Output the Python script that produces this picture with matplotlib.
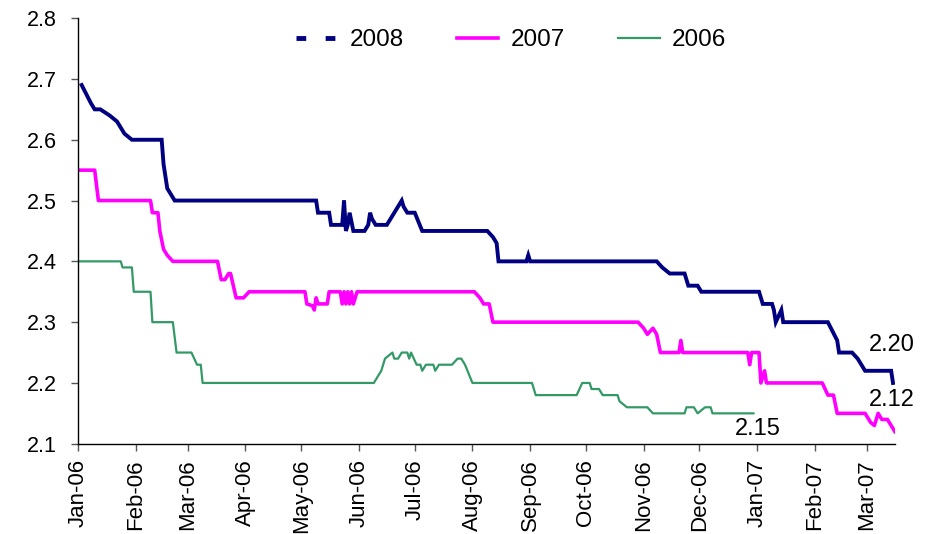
import numpy as np
import pandas as pd
import matplotlib
matplotlib.use("Agg")
import matplotlib.pyplot as plt
import matplotlib.dates as mdates
from matplotlib.lines import Line2D
from matplotlib.ticker import FormatStrFormatter

plt.rcParams['font.family'] = ['Liberation Sans', 'DejaVu Sans']

# contract price paths, plotted on a common Jan-06 .. Mar-07 calendar
dates_2008 = ['2006-01-03', '2006-01-08', '2006-01-10', '2006-01-13', '2006-01-18',
              '2006-01-22', '2006-01-26', '2006-01-30', '2006-02-15', '2006-02-16',
              '2006-02-17', '2006-02-18', '2006-02-20', '2006-02-22', '2006-05-09',
              '2006-05-10', '2006-05-16', '2006-05-17', '2006-05-23', '2006-05-24',
              '2006-05-25', '2006-05-26', '2006-05-27', '2006-05-29', '2006-06-04',
              '2006-06-06', '2006-06-07', '2006-06-08', '2006-06-10', '2006-06-16',
              '2006-06-18', '2006-06-20', '2006-06-24', '2006-06-25', '2006-06-27',
              '2006-07-01', '2006-07-05', '2006-08-09', '2006-08-12', '2006-08-14',
              '2006-08-15', '2006-08-30', '2006-08-31', '2006-09-01', '2006-11-08',
              '2006-11-11', '2006-11-15', '2006-11-23', '2006-11-25', '2006-11-30',
              '2006-12-02', '2007-01-02', '2007-01-03', '2007-01-04', '2007-01-09',
              '2007-01-10', '2007-01-11', '2007-01-14', '2007-01-15', '2007-02-08',
              '2007-02-13', '2007-02-14', '2007-02-21', '2007-02-24', '2007-02-28',
              '2007-03-14', '2007-03-15']
vals_2008 = [2.69, 2.66, 2.65, 2.65, 2.64,
             2.63, 2.61, 2.60, 2.60, 2.56,
             2.54, 2.52, 2.51, 2.50, 2.50,
             2.48, 2.48, 2.46, 2.46, 2.50,
             2.45, 2.46, 2.48, 2.45, 2.45,
             2.46, 2.48, 2.47, 2.46, 2.46,
             2.47, 2.48, 2.50, 2.49, 2.48,
             2.48, 2.45, 2.45, 2.44, 2.43,
             2.40, 2.40, 2.41, 2.40, 2.40,
             2.39, 2.38, 2.38, 2.36, 2.36,
             2.35, 2.35, 2.34, 2.33, 2.33,
             2.32, 2.30, 2.32, 2.30, 2.30,
             2.27, 2.25, 2.25, 2.24, 2.22,
             2.22, 2.20]

dates_2007 = ['2006-01-02', '2006-01-10', '2006-01-12', '2006-02-09', '2006-02-10',
              '2006-02-13', '2006-02-14', '2006-02-16', '2006-02-18', '2006-02-21',
              '2006-03-17', '2006-03-19', '2006-03-21', '2006-03-23', '2006-03-24',
              '2006-03-27', '2006-03-31', '2006-04-03', '2006-05-03', '2006-05-04',
              '2006-05-07', '2006-05-08', '2006-05-09', '2006-05-10', '2006-05-15',
              '2006-05-16', '2006-05-22', '2006-05-23', '2006-05-24', '2006-05-25',
              '2006-05-26', '2006-05-27', '2006-05-28', '2006-05-29', '2006-05-31',
              '2006-08-02', '2006-08-05', '2006-08-07', '2006-08-10', '2006-08-12',
              '2006-10-29', '2006-11-01', '2006-11-03', '2006-11-06', '2006-11-08',
              '2006-11-10', '2006-11-20', '2006-11-21', '2006-11-22', '2006-12-27',
              '2006-12-28', '2006-12-29', '2007-01-02', '2007-01-03', '2007-01-05',
              '2007-01-06', '2007-02-05', '2007-02-08', '2007-02-11', '2007-02-13',
              '2007-02-28', '2007-03-03', '2007-03-05', '2007-03-07', '2007-03-09',
              '2007-03-12', '2007-03-16']
vals_2007 = [2.55, 2.55, 2.50, 2.50, 2.48,
             2.48, 2.45, 2.42, 2.41, 2.40,
             2.40, 2.37, 2.37, 2.38, 2.38,
             2.34, 2.34, 2.35, 2.35, 2.33,
             2.327, 2.32, 2.34, 2.33, 2.33,
             2.35, 2.35, 2.33, 2.35, 2.33,
             2.35, 2.33, 2.35, 2.33, 2.35,
             2.35, 2.34, 2.33, 2.33, 2.30,
             2.30, 2.29, 2.28, 2.29, 2.28,
             2.25, 2.25, 2.27, 2.25, 2.25,
             2.23, 2.25, 2.25, 2.20, 2.22,
             2.20, 2.20, 2.18, 2.18, 2.15,
             2.15, 2.135, 2.13, 2.15, 2.14,
             2.14, 2.12]

dates_2006 = ['2006-01-01', '2006-01-24', '2006-01-25', '2006-01-30', '2006-01-31',
              '2006-02-09', '2006-02-10', '2006-02-21', '2006-02-23', '2006-03-03',
              '2006-03-06', '2006-03-08', '2006-03-09', '2006-06-09', '2006-06-13',
              '2006-06-15', '2006-06-19', '2006-06-20', '2006-06-22', '2006-06-24',
              '2006-06-27', '2006-06-28', '2006-06-29', '2006-07-02', '2006-07-04',
              '2006-07-05', '2006-07-07', '2006-07-11', '2006-07-12', '2006-07-14',
              '2006-07-21', '2006-07-24', '2006-07-26', '2006-07-28', '2006-08-01',
              '2006-09-02', '2006-09-04', '2006-09-26', '2006-09-29', '2006-10-03',
              '2006-10-04', '2006-10-08', '2006-10-10', '2006-10-18', '2006-10-19',
              '2006-10-23', '2006-11-03', '2006-11-06', '2006-11-23', '2006-11-24',
              '2006-11-28', '2006-11-30', '2006-12-04', '2006-12-07', '2006-12-08',
              '2006-12-30']
vals_2006 = [2.40, 2.40, 2.39, 2.39, 2.35,
             2.35, 2.30, 2.30, 2.25, 2.25,
             2.23, 2.23, 2.20, 2.20, 2.22,
             2.24, 2.25, 2.24, 2.24, 2.25,
             2.25, 2.24, 2.25, 2.23, 2.23,
             2.22, 2.23, 2.23, 2.22, 2.23,
             2.23, 2.24, 2.24, 2.23, 2.20,
             2.20, 2.18, 2.18, 2.20, 2.20,
             2.19, 2.19, 2.18, 2.18, 2.17,
             2.16, 2.16, 2.15, 2.15, 2.16,
             2.16, 2.15, 2.16, 2.16, 2.15,
             2.15]

navy = '#000080'
magenta = '#FF00FF'
green = '#339966'

d08 = pd.to_datetime(dates_2008)
d07 = pd.to_datetime(dates_2007)
d06 = pd.to_datetime(dates_2006)

fig = plt.figure(figsize=(9.39, 5.34), dpi=100)
ax = fig.add_axes([0.083, 0.169, 0.87, 0.797])

ax.plot(d08, vals_2008, color=navy, lw=2.8, solid_joinstyle='miter')
ax.plot(d07, vals_2007, color=magenta, lw=2.6)
ax.plot(d06, vals_2006, color=green, lw=1.6)

# end-of-series labels
ax.annotate('%.2f' % vals_2008[-1], (d08[-1], vals_2008[-1]), xytext=(-1, 27),
            textcoords='offset points', ha='center', va='center', fontsize=17)
ax.annotate('%.2f' % vals_2007[-1], (d07[-1], vals_2007[-1]), xytext=(-2, 23),
            textcoords='offset points', ha='center', va='center', fontsize=17)
ax.annotate('%.2f' % vals_2006[-1], (d06[-1], vals_2006[-1]), xytext=(3, -11),
            textcoords='offset points', ha='center', va='center', fontsize=17)

ax.set_ylim(2.1, 2.8)
ax.set_yticks(np.arange(2.1, 2.81, 0.1))
ax.yaxis.set_major_formatter(FormatStrFormatter('%.1f'))
ax.set_xlim(pd.Timestamp('2006-01-01'), pd.Timestamp('2007-03-16'))
ax.xaxis.set_major_locator(mdates.MonthLocator())
ax.xaxis.set_major_formatter(mdates.DateFormatter('%b-%y'))
plt.setp(ax.get_xticklabels(), rotation=90)

ax.tick_params(axis='both', direction='out', length=5, width=1,
               color='#555555')
ax.tick_params(axis='y', pad=10, labelsize=15.5)
ax.tick_params(axis='x', pad=6, labelsize=16)
for s in ['top', 'right']:
    ax.spines[s].set_visible(False)
for s in ['left', 'bottom']:
    ax.spines[s].set_color('black')
    ax.spines[s].set_linewidth(1)

handles = [Line2D([], [], color=navy, lw=3.5, linestyle=(0, (2, 4))),
           Line2D([], [], color=magenta, lw=2.6),
           Line2D([], [], color=green, lw=1.6)]
ax.legend(handles, ['2008', '2007', '2006'], loc='upper center',
          bbox_to_anchor=(0.53, 1.025), ncol=3, frameon=False, fontsize=17.5,
          handlelength=1.7, handletextpad=0.5, columnspacing=2.2)

fig.savefig('out.png', dpi=100)
